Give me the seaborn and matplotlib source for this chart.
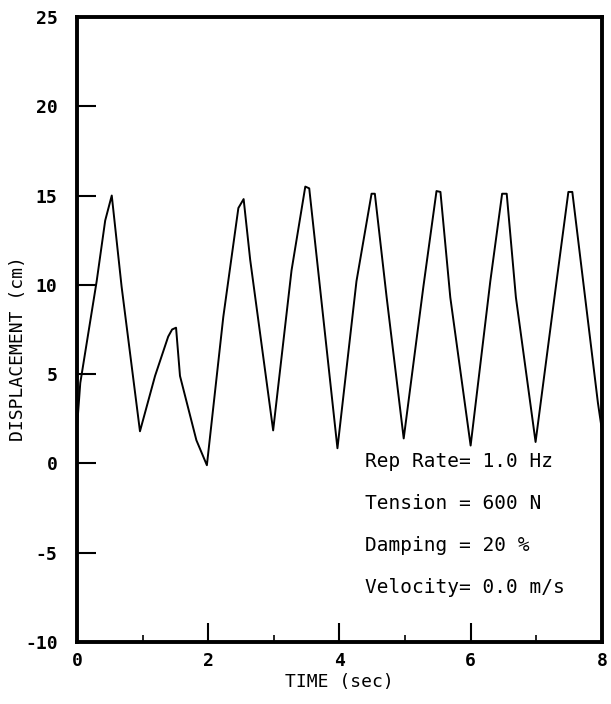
import numpy as np
import pandas as pd
import matplotlib
matplotlib.use("Agg")
import matplotlib.pyplot as plt
import seaborn as sns

# puntos (tiempo en s, desplazamiento en cm)
time_s = [0.0, 0.05, 0.30, 0.43, 0.53, 0.68, 0.96, 1.19, 1.39, 1.45, 1.51, 1.57,
          1.82, 1.98, 2.23, 2.46, 2.54, 2.64, 2.99, 3.27, 3.48, 3.54, 3.97, 4.26,
          4.49, 4.54, 4.72, 4.98, 5.28, 5.48, 5.54, 5.69, 6.00, 6.30, 6.48, 6.55,
          6.69, 6.99, 7.31, 7.49, 7.55, 7.94, 8.00]
displacement_cm = [2.0, 4.5, 10.2, 13.6, 15.0, 9.9, 1.8, 4.9, 7.1, 7.5, 7.6, 4.9,
                   1.3, -0.1, 8.2, 14.3, 14.8, 11.4, 1.85, 10.8, 15.5, 15.4, 0.85, 10.2,
                   15.1, 15.1, 9.3, 1.4, 9.9, 15.25, 15.2, 9.3, 1.0, 10.2, 15.1, 15.1,
                   9.3, 1.2, 10.2, 15.2, 15.2, 3.4, 1.9]

x_ticks = [0, 2, 4, 6, 8]
x_minor = [1, 3, 5, 7]
y_ticks = [-10, -5, 0, 5, 10, 15, 20, 25]

info_lines = ["Rep Rate= 1.0 Hz",
              "Tension = 600 N",
              "Damping = 20 %",
              "Velocity= 0.0 m/s"]

df = pd.DataFrame({"t": time_s, "d": displacement_cm})

sns.set_style("white")
plt.rcParams["font.family"] = ["DejaVu Sans Mono", "DejaVu Sans"]
plt.rcParams["text.color"] = "black"
plt.rcParams["axes.labelcolor"] = "black"
plt.rcParams["xtick.color"] = "black"
plt.rcParams["ytick.color"] = "black"

fig = plt.figure(figsize=(6.11, 7.04), dpi=100)
ax = fig.add_axes([0.126, 0.088, 0.859, 0.888])

sns.lineplot(data=df, x="t", y="d", color="black", linewidth=1.4, ax=ax,
             sort=False, estimator=None)

ax.set_xlim(0, 8)
ax.set_ylim(-10, 25)
ax.set_xticks(x_ticks)
ax.set_xticks(x_minor, minor=True)
ax.set_yticks(y_ticks)
ax.set_xticklabels([str(v) for v in x_ticks], fontsize=13, fontweight="bold")
ax.set_yticklabels([str(v) for v in y_ticks], fontsize=13, fontweight="bold")
ax.tick_params(axis="both", which="both", bottom=True, left=True)
ax.tick_params(axis="both", which="major", direction="in", length=14, width=1.5,
               color="black", pad=7)
ax.tick_params(axis="x", which="minor", direction="in", length=5, width=1.2,
               color="black")
ax.tick_params(axis="y", which="major", pad=14)

for sp in ax.spines.values():
    sp.set_linewidth(2.8)
    sp.set_color("black")

ax.set_xlabel("TIME (sec)", fontsize=13, labelpad=2)
ax.set_ylabel("DISPLACEMENT (cm)", fontsize=13)
ax.yaxis.set_label_coords(-0.096, 0.47)

for i, line in enumerate(info_lines):
    ax.text(4.39, 0.13 - i * 2.35, line, fontsize=14, color="black",
            va="center", ha="left")

fig.savefig("out.png", dpi=100)
